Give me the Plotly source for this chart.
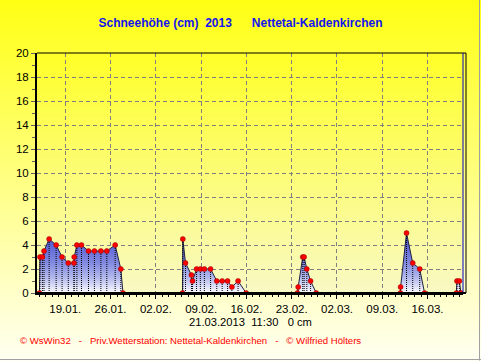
import base64, struct, zlib
import plotly.graph_objects as go

# ---------------- data ----------------
times = [
    '2013-01-15 00:00', '2013-01-15 02:00', '2013-01-15 11:00', '2013-01-15 17:00',
    '2013-01-16 12:00', '2013-01-17 14:00', '2013-01-18 12:00', '2013-01-19 11:00',
    '2013-01-20 08:00', '2013-01-20 09:00', '2013-01-20 19:00', '2013-01-21 12:00',
    '2013-01-22 14:00', '2013-01-23 12:00', '2013-01-24 12:00', '2013-01-25 10:00',
    '2013-01-26 17:00', '2013-01-27 14:00', '2013-01-27 22:00',
    '2013-02-06 03:00', '2013-02-06 04:00', '2013-02-06 14:00', '2013-02-07 12:00',
    '2013-02-07 16:00', '2013-02-08 07:00', '2013-02-08 21:00', '2013-02-09 12:00',
    '2013-02-10 11:00', '2013-02-11 10:00', '2013-02-12 06:00', '2013-02-13 02:00',
    '2013-02-13 18:00', '2013-02-14 17:00', '2013-02-15 23:00',
    '2013-02-23 21:00', '2013-02-24 00:00', '2013-02-24 17:00', '2013-02-24 22:00',
    '2013-02-25 08:00', '2013-02-25 22:00', '2013-02-26 19:00',
    '2013-03-11 19:00', '2013-03-11 20:00', '2013-03-12 18:00', '2013-03-13 17:00',
    '2013-03-14 19:00', '2013-03-15 13:00',
    '2013-03-20 11:00', '2013-03-20 13:00', '2013-03-20 22:00', '2013-03-21 04:00',
]
snow_cm = [
    0, 3.0, 3.0, 3.5, 4.5, 4.0, 3.0, 2.5, 2.5, 3.0, 4.0, 4.0, 3.5, 3.5, 3.5, 3.5, 4.0, 2.0, 0,
    0, 4.5, 2.5, 1.5, 1.0, 2.0, 2.0, 2.0, 2.0, 1.0, 1.0, 1.0, 0.5, 1.0, 0,
    0, 0.5, 3.0, 3.0, 2.0, 1.0, 0,
    0, 0.5, 5.0, 2.5, 2.0, 0,
    0, 1.0, 1.0, 0,
]
tick_dates = ['2013-01-19', '2013-01-26', '2013-02-02', '2013-02-09', '2013-02-16',
              '2013-02-23', '2013-03-02', '2013-03-09', '2013-03-16']
tick_labels = ['19.01.', '26.01.', '02.02.', '09.02.', '16.02.',
               '23.02.', '02.03.', '09.03.', '16.03.']
y_ticks = list(range(0, 21, 2))

title_text = 'Schneehöhe (cm)\u00a0\u00a02013\u00a0\u00a0\u00a0\u00a0\u00a0\u00a0Nettetal-Kaldenkirchen'
stamp_text = '21.03.2013\u00a0\u00a011:30\u00a0\u00a0\u00a00 cm'
footer_text = ('©\u00a0WsWin32\u00a0\u00a0\u00a0-\u00a0\u00a0\u00a0Priv.Wetterstation: Nettetal-Kaldenkirchen'
               '\u00a0\u00a0\u00a0-\u00a0\u00a0\u00a0©\u00a0Wilfried Hölters')

W, H = 481, 361
L, R, T, B = 37, 18, 53, 68
PW, PH = W - L - R, H - T - B


def gradient_png(h, top, bottom):
    raw = b''
    for i in range(h):
        t = i / (h - 1)
        c = bytes(int(round(top[k] + (bottom[k] - top[k]) * t)) for k in range(3))
        raw += b'\x00' + c

    def chunk(tag, data):
        return struct.pack('>I', len(data)) + tag + data + struct.pack('>I', zlib.crc32(tag + data) & 0xffffffff)
    png = b'\x89PNG\r\n\x1a\n'
    png += chunk(b'IHDR', struct.pack('>IIBBBBB', 1, h, 8, 2, 0, 0, 0))
    png += chunk(b'IDAT', zlib.compress(raw))
    png += chunk(b'IEND', b'')
    return 'data:image/png;base64,' + base64.b64encode(png).decode()


paper_img = gradient_png(H, (255, 255, 20), (255, 255, 242))
plot_img = gradient_png(PH, (255, 255, 40), (249, 249, 196))

# drop lines from data
drop_x, drop_y = [], []
for t, v in zip(times, snow_cm):
    if v > 0:
        drop_x += [t, t, None]
        drop_y += [0, v, None]

fig = go.Figure()
fig.add_trace(go.Scatter(
    x=times, y=snow_cm, mode='lines', fill='tozeroy',
    line=dict(color='#202040', width=1),
    fillgradient=dict(type='vertical', start=0, stop=5,
                      colorscale=[[0, 'rgb(252,252,255)'], [0.1, 'rgb(224,226,248)'],
                                  [0.25, 'rgb(180,186,236)'], [0.5, 'rgb(130,138,224)'],
                                  [1, 'rgb(68,78,206)']]),
    hoverinfo='skip', showlegend=False))
fig.add_trace(go.Scatter(
    x=drop_x, y=drop_y, mode='lines',
    line=dict(color='black', width=1, dash='1px,1px'),
    hoverinfo='skip', showlegend=False))
fig.add_trace(go.Scatter(
    x=times, y=snow_cm, mode='markers',
    marker=dict(color='#ff0000', size=5, line=dict(color='#900000', width=0.5)),
    showlegend=False))

fig.update_layout(
    width=W, height=H,
    margin=dict(l=L, r=R, t=T, b=B, pad=0),
    paper_bgcolor='#ffffee', plot_bgcolor='rgba(0,0,0,0)',
    font=dict(family='Arial, Liberation Sans, sans-serif', size=11, color='black'),
    title=dict(text='<b>' + title_text + '</b>', x=0.5, xref='container', xanchor='center',
               y=1 - 23 / H, yref='container', yanchor='middle',
               font=dict(size=12, color='#1414ec')),
    xaxis=dict(type='date', range=['2013-01-14 15:00', '2013-03-21 11:30'],
               tickvals=tick_dates, ticktext=tick_labels,
               showgrid=True, gridcolor='#808080', griddash='4px,3px', gridwidth=1,
               showline=True, linecolor='black', linewidth=2,
               ticks='outside', ticklen=4, tickcolor='black',
               minor=dict(dtick=86400000, tick0='2013-01-19', ticks='outside', ticklen=2,
                          tickcolor='black', showgrid=False),
               tickfont=dict(size=11.5), zeroline=False, fixedrange=True),
    yaxis=dict(range=[0, 20], tickvals=y_ticks,
               showgrid=True, gridcolor='#808080', griddash='4px,3px', gridwidth=1,
               showline=True, linecolor='black', linewidth=2,
               ticks='outside', ticklen=4, tickcolor='#606060',
               minor=dict(dtick=1, ticks='outside', ticklen=3, tickcolor='#606060', showgrid=False),
               tickfont=dict(size=11.5), zeroline=False, fixedrange=True),
    images=[
        dict(source=paper_img, xref='paper', yref='paper', x=-L / PW, y=1 + T / PH,
             sizex=W / PW, sizey=H / PH, sizing='stretch', xanchor='left', yanchor='top',
             layer='below'),
        dict(source=plot_img, xref='paper', yref='paper', x=0, y=1,
             sizex=1, sizey=1, sizing='stretch', xanchor='left', yanchor='top',
             layer='below'),
    ],
    shapes=[
        dict(type='line', xref='paper', yref='paper', x0=0, x1=(466 - L) / PW, y0=1, y1=1,
             line=dict(color='black', width=1)),
        dict(type='line', xref='paper', yref='paper', x0=(466 - L) / PW, x1=(466 - L) / PW, y0=0, y1=1,
             line=dict(color='black', width=1)),
        dict(type='line', xref='paper', yref='paper', x0=1, x1=1, y0=0, y1=1,
             line=dict(color='#0000c0', width=1)),
        dict(type='line', xref='paper', yref='paper', x0=0, x1=(466 - L) / PW, y0=0, y1=0,
             line=dict(color='black', width=2)),
        dict(type='line', xref='paper', yref='paper', x0=(479.5 - L) / PW, x1=(479.5 - L) / PW,
             y0=1 + T / PH, y1=-(B - 0.5) / PH, line=dict(color='#a0a0a0', width=1)),
        dict(type='line', xref='paper', yref='paper', x0=-L / PW, x1=(W - L) / PW,
             y0=-(B - 1.5) / PH, y1=-(B - 1.5) / PH, line=dict(color='#a0a0a0', width=1)),
    ],
    annotations=[
        dict(text=stamp_text, xref='paper', yref='paper', x=(250 - L) / PW, y=(293 - 322) / PH,
             xanchor='center', yanchor='middle', showarrow=False,
             font=dict(size=11.2, color='black')),
        dict(text=footer_text, xref='paper', yref='paper', x=(18 - L) / PW, y=(293 - 340) / PH,
             xanchor='left', yanchor='middle', showarrow=False,
             font=dict(size=9.6, color='#ff0000')),
    ],
)

fig.write_html('out.html', config={'displayModeBar': False},
               post_script="document.body.style.margin='0';document.body.style.padding='0';")
